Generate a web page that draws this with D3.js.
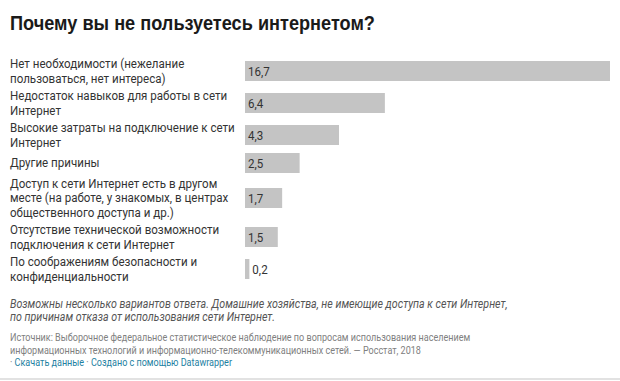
<!DOCTYPE html>
<html><head><meta charset="utf-8">
<script src="https://cdn.jsdelivr.net/npm/d3@7"></script>
<style>
html,body{margin:0;padding:0;background:#fff;}
svg{display:block;}
</style></head>
<body>
<svg id="chart" width="620" height="381"></svg>
<script>
const title = "Почему вы не пользуетесь интернетом?";
const categories = [
  "Нет необходимости (нежелание|пользоваться, нет интереса)",
  "Недостаток навыков для работы в сети|Интернет",
  "Высокие затраты на подключение к сети|Интернет",
  "Другие причины",
  "Доступ к сети Интернет есть в другом|месте (на работе, у знакомых, в центрах|общественного доступа и др.)",
  "Отсутствие технической возможности|подключения к сети Интернет",
  "По соображениям безопасности и|конфиденциальности"
];
const values = [16.7, 6.4, 4.3, 2.5, 1.7, 1.5, 0.2];
const notes = [
  "Возможны несколько вариантов ответа. Домашние хозяйства, не имеющие доступа к сети Интернет,",
  "по причинам отказа от использования сети Интернет."
];
const sourceLines = [
  "Источник: Выборочное федеральное статистическое наблюдение по вопросам использования населением",
  "информационных технологий и информационно-телекоммуникационных сетей. — Росстат, 2018"
];
const links = ["Скачать данные", "Создано с помощью Datawrapper"];

const SX = 0.89;
const SX2 = 0.905;
const svg = d3.select("#chart");
const fmt = v => d3.format(".1f")(v).replace(".", ",");

svg.append("text").attr("transform", "translate(10,30) scale(0.865,1)")
  .attr("font-family", "'Liberation Sans', Arial, sans-serif")
  .attr("font-weight", "bold").attr("font-size", 21).attr("fill", "#1a1a1a")
  .text(title);

const rows = categories.map((c, i) => ({lines: c.split("|"), value: values[i]}));
const rowH = n => n === 1 ? 24 : (n === 2 ? 32 : 46);
let acc = 55;
rows.forEach(r => { r.h = rowH(r.lines.length); r.cy = acc + r.h / 2; acc += r.h; });

const x = d3.scaleLinear().domain([0, d3.max(values)]).range([245, 610]);
const barH = 20;
const lineH = 14.5;

const g = svg.append("g").attr("font-family", "Roboto, sans-serif");
const row = g.selectAll("g.row").data(rows).join("g").attr("class", "row");

row.append("rect")
  .attr("x", x(0)).attr("y", d => d.cy - barH / 2)
  .attr("width", d => x(d.value) - x(0)).attr("height", barH)
  .attr("fill", "#c4c4c4");

row.append("text")
  .attr("font-size", 13).attr("fill", "#333")
  .attr("transform", `translate(10,0) scale(${SX},1)`)
  .each(function(d) {
    const t = d3.select(this);
    const n = d.lines.length;
    d.lines.forEach((ln, j) => {
      t.append("tspan").attr("x", 0)
        .attr("y", d.cy + (j - (n - 1) / 2) * lineH + 4.5)
        .text(ln);
    });
  });

row.append("text")
  .attr("font-size", 13).attr("fill", "#333")
  .attr("transform", d => {
    const px = (x(d.value) - x(0) > 30 ? x(0) + 3 : x(d.value) + 3);
    return `translate(${px},${d.cy + 4.5}) scale(${SX},1)`;
  })
  .text(d => fmt(d.value));

const f = svg.append("g").attr("font-family", "Roboto, sans-serif");
f.selectAll("text.note").data(notes).join("text").attr("class", "note")
  .attr("transform", (d, i) => `translate(10,${307.5 + i * 13.5}) scale(${SX},1)`)
  .attr("font-size", 12).attr("font-style", "italic").attr("fill", "#555")
  .text(d => d);
f.selectAll("text.src").data(sourceLines).join("text").attr("class", "src")
  .attr("transform", (d, i) => `translate(10,${341 + i * 12.5}) scale(${SX2},1)`)
  .attr("font-size", 10).attr("fill", "#808080")
  .text(d => d);
const lt = f.append("text").attr("transform", `translate(10,365.5) scale(${SX2},1)`).attr("font-size", 10);
links.forEach(l => {
  lt.append("tspan").attr("fill", "#808080").text("· ");
  lt.append("tspan").attr("fill", "#1d81a2").text(l + " ");
});
svg.append("rect").attr("x", 0).attr("y", 378).attr("width", 620).attr("height", 2).attr("fill", "#e2e2e2");
</script>
</body></html>
